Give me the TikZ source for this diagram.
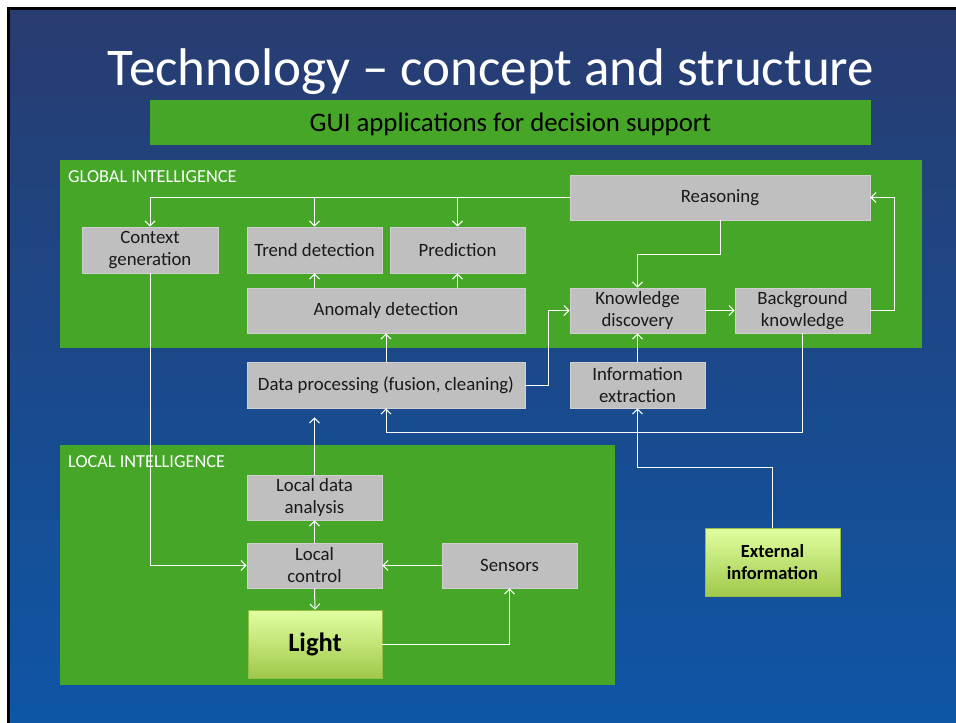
\documentclass[tikz,border=0pt]{standalone}
\usepackage{fontspec}
\setmainfont{Carlito}
\usetikzlibrary{arrows.meta}
\definecolor{bgtop}{RGB}{40,60,112}
\definecolor{bgbot}{RGB}{14,86,166}
\definecolor{panelgreen}{RGB}{70,166,40}
\definecolor{boxgray}{RGB}{191,191,191}
\definecolor{boxedge}{RGB}{208,208,208}
\definecolor{boxtext}{RGB}{25,25,25}
\definecolor{lighttop}{RGB}{225,255,160}
\definecolor{lightbot}{RGB}{160,200,75}
\definecolor{lightedge}{RGB}{150,190,70}
\begin{document}
\begin{tikzpicture}[x=1pt,y=-1pt,
  gbox/.style={draw=boxedge, line width=0.8pt, fill=boxgray, text=boxtext,
    font=\fontsize{18.8}{22}\selectfont, align=center, inner sep=0pt},
  hbox/.style={draw=lightedge, line width=0.8pt, top color=lighttop, bottom color=lightbot,
    text=black, align=center, inner sep=0pt},
  panel/.style={fill=panelgreen, draw=none},
  plabel/.style={text=white, font=\fontsize{18.3}{20}\selectfont, anchor=west, inner sep=0pt},
  conn/.style={draw=white, line width=1pt, -{Straight Barb[length=5pt,width=10pt,line width=1pt]}},
  plain/.style={draw=white, line width=1pt}]
% page and background
\fill[white] (0,0) rectangle (956,723);
\useasboundingbox (0,0) rectangle (956,723);
\shade[top color=bgtop, bottom color=bgbot] (9,9) rectangle (956,723);
\draw[black, line width=3pt] (8,723) -- (8,8) -- (956,8);
% title
\node[text=white, font=\fontsize{53}{60}\selectfont, inner sep=0pt] (title) at (491,72) {Technology – concept and structure};
% GUI bar
\fill[panelgreen] (150,100) rectangle (871,145);
\node[inner sep=0pt, font=\fontsize{26.8}{30}\selectfont, text=black] (gui) at (510.5,124.5) {GUI applications for decision support};
% panels
\fill[panelgreen] (60,160) rectangle (922,348);
\fill[panelgreen] (60,445) rectangle (615,685);
\node[plabel] (glab) at (68,177) {GLOBAL INTELLIGENCE};
\node[plabel] (llab) at (68,462) {LOCAL INTELLIGENCE};
% boxes
\node[gbox, minimum width=300pt, minimum height=45pt] (reason) at (720,197.5) {Reasoning};
\node[gbox, minimum width=136pt, minimum height=46pt] (ctx) at (150,250) {Context\\generation};
\node[gbox, minimum width=135pt, minimum height=46pt] (trend) at (314.5,250) {Trend detection};
\node[gbox, minimum width=135pt, minimum height=46pt] (pred) at (457.5,250) {Prediction};
\node[gbox, minimum width=278pt, minimum height=45pt] (anom) at (386,310.5) {Anomaly detection};
\node[gbox, minimum width=135pt, minimum height=45pt] (know) at (637.5,310.5) {Knowledge\\discovery};
\node[gbox, minimum width=135pt, minimum height=45pt] (back) at (802.5,310.5) {Background\\knowledge};
\node[gbox, minimum width=278pt, minimum height=46pt] (datap) at (386,385) {Data processing (fusion, cleaning)};
\node[gbox, minimum width=135pt, minimum height=46pt] (info) at (637.5,385) {Information\\extraction};
\node[gbox, minimum width=135pt, minimum height=45pt] (lda) at (314.5,497.5) {Local data\\analysis};
\node[gbox, minimum width=135pt, minimum height=45pt] (lctl) at (314.5,565.5) {Local\\control};
\node[gbox, minimum width=135pt, minimum height=45pt] (sens) at (509.5,565.5) {Sensors};
\node[hbox, minimum width=134pt, minimum height=68pt, font=\fontsize{26.5}{30}\selectfont\bfseries] (light) at (315,644) {Light};
\node[hbox, minimum width=135pt, minimum height=68pt, font=\fontsize{18.5}{22}\selectfont\bfseries] (ext) at (772.5,562) {External\\information};
% coordinates
\coordinate (rl) at (150,197.5);
\coordinate (rt) at (314.5,197.5);
\coordinate (rp) at (457.5,197.5);
% connectors in global intelligence
\draw[plain] (reason.west) -- (rl);
\draw[conn] (rl) -- (ctx.north);
\draw[conn] (rt) -- (trend.north);
\draw[conn] (rp) -- (pred.north);
\draw[conn] (reason.south) |- (637.5,254) -- (know.north);
\draw[conn] (know.east) -- (back.west);
\draw[conn] (back.east) -- (894,310.5) |- (reason.east);
\draw[conn] (anom.north -| trend.south) -- (trend.south);
\draw[conn] (anom.north -| pred.south) -- (pred.south);
\draw[conn] (datap.north) -- (anom.south);
\draw[conn] (datap.east) -- (548,385) |- (know.west);
\draw[conn] (info.north) -- (know.south);
\draw[conn] (back.south) |- (386,432) -- (datap.south);
\draw[conn] (ext.north) |- (637.5,467) -- (info.south);
% local intelligence
\draw[conn] (ctx.south) |- (lctl.west);
\draw[conn] (lctl.north) -- (lda.south);
\draw[conn, shorten >=9pt] (lda.north) -- (lda.north |- datap.south);
\draw[conn] (sens.west) -- (lctl.east);
\draw[conn] (lctl.south) -- (light.north);
\draw[conn] (light.east) -| (sens.south);
\end{tikzpicture}
\end{document}
